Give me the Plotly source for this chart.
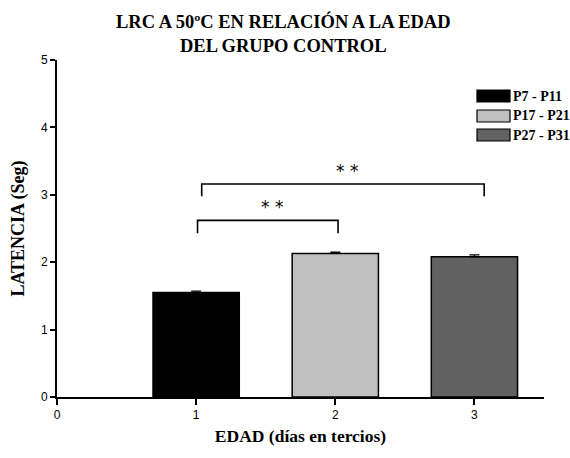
import plotly.graph_objects as go

# Latency by age group (control group)
groups = ["P7 - P11", "P17 - P21", "P27 - P31"]
positions = [1, 2, 3]
latency = [1.55, 2.13, 2.08]
sem = [0.02, 0.02, 0.03]
colors = ["#000000", "#c0c0c0", "#616161"]

# Significance brackets: (x start, x end, top y, leg bottom y, label)
brackets = [
    (1.01, 2.02, 2.62, 2.43, "* *"),
    (1.04, 3.07, 3.16, 2.98, "* *"),
]

fig = go.Figure()
for x, y, e, c, name in zip(positions, latency, sem, colors, groups):
    fig.add_trace(go.Bar(
        x=[x], y=[y], name=name, width=0.62,
        marker=dict(color=c, line=dict(color="black", width=1.5)),
        error_y=dict(type="data", array=[e], arrayminus=[0], color="black",
                     thickness=1.2, width=5),
        showlegend=False,
    ))

shapes = []
annotations = []
for x0, x1, ytop, ybot, label in brackets:
    shapes.append(dict(type="path", xref="x", yref="y",
                       path=f"M {x0},{ybot} L {x0},{ytop} L {x1},{ytop} L {x1},{ybot}",
                       line=dict(color="black", width=1.6)))
    annotations.append(dict(x=(x0 + x1) / 2 + 0.03, y=ytop + 0.02, xref="x", yref="y",
                            text=label, showarrow=False, yanchor="bottom",
                            font=dict(family="DejaVu Sans", size=17, color="black")))

# Legend drawn as swatches with labels
W, H = 570, 458
PW, PH = W - 57 - 26, 397 - 60
leg_top = [90, 110, 129]
for c, name, ty in zip(colors, groups, leg_top):
    shapes.append(dict(type="rect", xref="paper", yref="paper",
                       x0=(477 - 57) / PW, x1=(510 - 57) / PW,
                       y0=(397 - (ty + 12)) / PH, y1=(397 - ty) / PH,
                       fillcolor=c, line=dict(color="black", width=1.2)))
    annotations.append(dict(x=(511 - 57) / PW, y=(397 - (ty + 6)) / PH,
                            xref="paper", yref="paper", text=f"<b>{name}</b>",
                            showarrow=False, xanchor="left", yanchor="middle",
                            font=dict(family="Liberation Serif", size=14, color="black")))

# Two-line chart title
annotations.append(dict(x=(283 - 57) / PW, y=(397 - 58) / PH, xref="paper", yref="paper",
                        text="<b>LRC A 50ºC EN RELACIÓN A LA EDAD<br>DEL GRUPO CONTROL</b>",
                        showarrow=False, xanchor="center", yanchor="bottom",
                        font=dict(family="Liberation Serif", size=18.5, color="black")))

fig.update_layout(
    width=W, height=H,
    margin=dict(l=57, r=26, t=60, b=61),
    paper_bgcolor="white", plot_bgcolor="white",
    shapes=shapes,
    annotations=annotations,
    xaxis=dict(range=[0, 3.5], tickvals=[0, 1, 2, 3], ticktext=["0", "1", "2", "3"],
               showline=True, linecolor="black", linewidth=2, showgrid=False,
               zeroline=False, ticks="outside", ticklen=6, tickwidth=2, tickcolor="black",
               tickfont=dict(family="Liberation Sans", size=12, color="black"),
               title=dict(text="<b>EDAD (días en tercios)</b>", standoff=8,
                          font=dict(family="Liberation Serif", size=17.5, color="black"))),
    yaxis=dict(range=[0, 5], tickvals=[0, 1, 2, 3, 4, 5],
               showline=True, linecolor="black", linewidth=2, showgrid=False,
               zeroline=False, ticks="outside", ticklen=5, tickwidth=2, tickcolor="black",
               tickfont=dict(family="Liberation Sans", size=12, color="black"),
               title=dict(text="<b>LATENCIA (Seg)</b>", standoff=12,
                          font=dict(family="Liberation Serif", size=18, color="black"))),
)

fig.write_html("out.html")
